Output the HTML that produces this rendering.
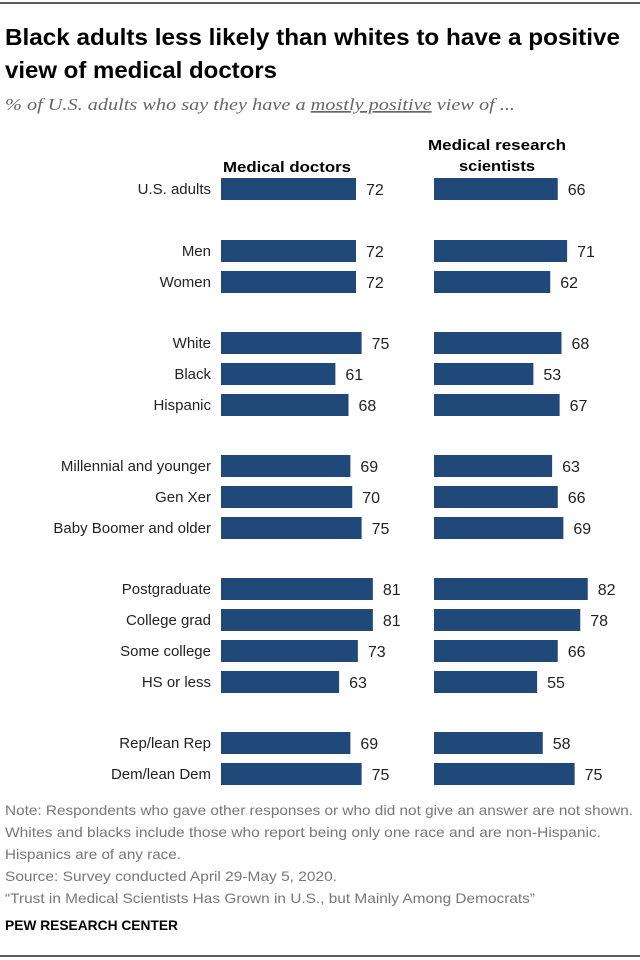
<!DOCTYPE html>
<html><head><meta charset="utf-8"><style>body{margin:0;background:#fff}svg{display:block}</style></head>
<body>
<svg width="640" height="960" xmlns="http://www.w3.org/2000/svg" font-family="Liberation Sans, sans-serif">
<line x1="0" y1="3" x2="640" y2="3" stroke="#222" stroke-width="1.5"/>
<text x="5" y="45" font-size="23" font-weight="bold" textLength="615" lengthAdjust="spacingAndGlyphs" fill="#000">Black adults less likely than whites to have a positive</text>
<text x="5" y="78" font-size="23" font-weight="bold" textLength="272" lengthAdjust="spacingAndGlyphs" fill="#000">view of medical doctors</text>
<text x="5" y="110" font-size="17" font-style="italic" font-family="Liberation Serif, serif" fill="#666" textLength="510" lengthAdjust="spacingAndGlyphs">% of U.S. adults who say they have a <tspan text-decoration="underline">mostly positive</tspan> view of ...</text>
<text x="287" y="172" font-size="15" font-weight="bold" text-anchor="middle" textLength="128" lengthAdjust="spacingAndGlyphs">Medical doctors</text>
<text x="497" y="150" font-size="15" font-weight="bold" text-anchor="middle" textLength="138" lengthAdjust="spacingAndGlyphs">Medical research</text>
<text x="497" y="171" font-size="15" font-weight="bold" text-anchor="middle" textLength="76" lengthAdjust="spacingAndGlyphs">scientists</text>
<g id="bars"></g>
<g font-size="14" fill="#777">
<text x="5" y="815" textLength="628" lengthAdjust="spacingAndGlyphs">Note: Respondents who gave other responses or who did not give an answer are not shown.</text>
<text x="5" y="837" textLength="596" lengthAdjust="spacingAndGlyphs">Whites and blacks include those who report being only one race and are non-Hispanic.</text>
<text x="5" y="859" textLength="176" lengthAdjust="spacingAndGlyphs">Hispanics are of any race.</text>
<text x="5" y="881" textLength="332" lengthAdjust="spacingAndGlyphs">Source: Survey conducted April 29-May 5, 2020.</text>
<text x="5" y="903" textLength="530" lengthAdjust="spacingAndGlyphs">“Trust in Medical Scientists Has Grown in U.S., but Mainly Among Democrats”</text>
</g>
<text x="5" y="930" font-size="14" font-weight="bold" fill="#000" textLength="173" lengthAdjust="spacingAndGlyphs">PEW RESEARCH CENTER</text>
<line x1="0" y1="956" x2="640" y2="956" stroke="#222" stroke-width="1.5"/>
</svg>
<script>
const categories=["U.S. adults","Men","Women","White","Black","Hispanic","Millennial and younger","Gen Xer","Baby Boomer and older","Postgraduate","College grad","Some college","HS or less","Rep/lean Rep","Dem/lean Dem"];
const doctors=[72,72,72,75,61,68,69,70,75,81,81,73,63,69,75];
const scientists=[66,71,62,68,53,67,63,66,69,82,78,66,55,58,75];
const rowY=[189,251,282,343,374,405,466,497,528,589,620,651,682,743,774];
const NS="http://www.w3.org/2000/svg";
const g=document.getElementById('bars');
const scale=1.875;
function xs(v){return v*scale;}
function mk(t,a){const e=document.createElementNS(NS,t);for(const k in a)e.setAttribute(k,a[k]);g.appendChild(e);return e;}
categories.forEach((c,i)=>{
  const y=rowY[i];
  const l=mk('text',{x:211,y:y+5,'font-size':15,'text-anchor':'end',fill:'#222'});
  l.textContent=c;
  
  
  [[221,doctors[i],'doctors'],[434,scientists[i],'scientists']].forEach(([x0,v,n])=>{
    const r=mk('rect',{x:x0,y:y-11,width:xs(v),height:22,fill:'#20497a'});
    
    
    const t=mk('text',{x:x0+xs(v)+10,y:y+6,'font-size':16,fill:'#222'});
    t.textContent=v;
    
    
  });
});
</script>
</body></html>
